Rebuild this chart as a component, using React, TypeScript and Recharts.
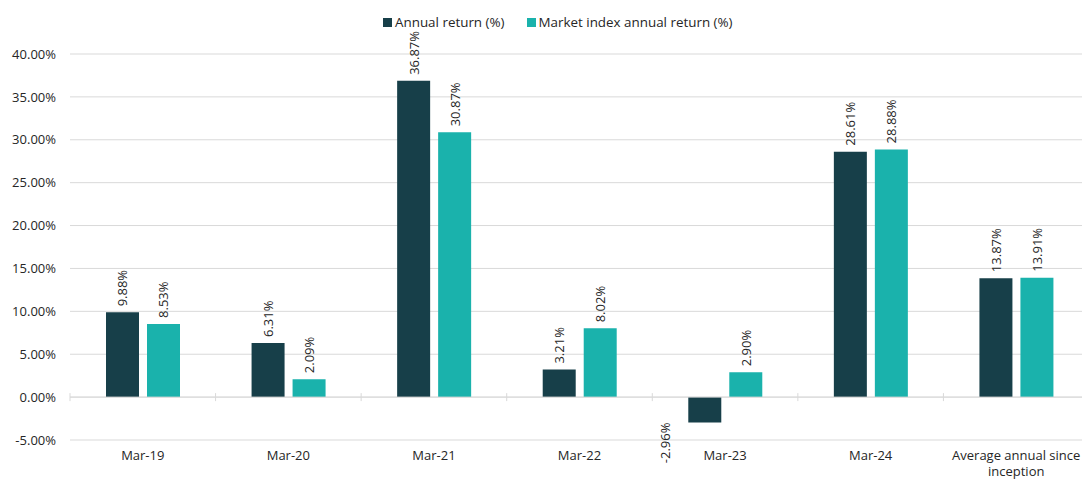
import React from 'react';
import { BarChart, Bar, XAxis, YAxis, CartesianGrid, ReferenceLine, LabelList, Text } from 'recharts';

const categories = ['Mar-19', 'Mar-20', 'Mar-21', 'Mar-22', 'Mar-23', 'Mar-24', 'Average annual since inception'];
const annualReturn = [9.88, 6.31, 36.87, 3.21, -2.96, 28.61, 13.87];
const marketReturn = [8.53, 2.09, 30.87, 8.02, 2.9, 28.88, 13.91];
const seriesNames = ['Annual return (%)', 'Market index annual return (%)'];
const yTicks = [-5, 0, 5, 10, 15, 20, 25, 30, 35, 40];

const COLORS = ['#173F49', '#1AB2AC'];
const FONT = '"Open Sans", "Noto Sans", sans-serif';
const TEXT = '#262626';
const GRID = '#d9d9d9';

const data = categories.map((c, i) => ({ name: c, a: annualReturn[i], m: marketReturn[i] }));

const fmt = (v: number) => `${v.toFixed(2)}%`;

const BarLabel = (props: any) => {
  const { x, y, width, height, value } = props;
  const top = Math.min(y, y + height);
  const bottom = Math.max(y, y + height);
  const cx = x + width / 2;
  if (value >= 0) {
    const ay = top - 6;
    return (
      <text x={cx} y={ay} transform={`rotate(-90 ${cx} ${ay})`} textAnchor="start" dominantBaseline="central"
        fontSize={13} fontFamily={FONT} fill={TEXT}>{fmt(value)}</text>
    );
  }
  const ax = cx - 40;
  const ay = bottom;
  return (
    <text x={ax} y={ay} transform={`rotate(-90 ${ax} ${ay})`} textAnchor="end" dominantBaseline="central"
      fontSize={13} fontFamily={FONT} fill={TEXT}>{fmt(value)}</text>
  );
};

const XTick = (props: any) => {
  const { x, y, payload } = props;
  return (
    <Text x={x} y={y} width={146} textAnchor="middle" verticalAnchor="start" fontSize={13}
      fontFamily={FONT} fill={TEXT} lineHeight={16}>{payload.value}</Text>
  );
};

const ZeroLine = (props: any) => {
  const { x1, y1, x2, y2 } = props;
  const n = categories.length;
  const band = (x2 - x1) / n;
  const ticks = Array.from({ length: n + 1 }, (_, i) => x1 + i * band);
  return (
    <g>
      <line x1={x1} y1={y1} x2={x2} y2={y2} stroke={GRID} strokeWidth={1} />
      {ticks.map((tx, i) => (
        <line key={i} x1={tx} x2={tx} y1={y1 - 4} y2={y1 + 4} stroke={GRID} strokeWidth={1} />
      ))}
    </g>
  );
};

export default function App() {
  return (
    <div style={{ position: 'fixed', left: 0, top: 0, width: 1082, height: 482, background: '#fff', overflow: 'hidden' }}>
      <div style={{ position: 'absolute', top: 13, left: 383, display: 'flex', alignItems: 'center', fontFamily: FONT, fontSize: 13.4, color: TEXT, whiteSpace: 'nowrap', zIndex: 1 }}>
        {seriesNames.map((n, i) => (
          <div key={n} style={{ display: 'flex', alignItems: 'center', marginRight: i === 0 ? 22 : 0 }}>
            <span style={{ display: 'inline-block', width: 9, height: 9, background: COLORS[i], marginRight: 3 }} />
            <span>{n}</span>
          </div>
        ))}
      </div>
      <BarChart width={1089} height={482} data={data} margin={{ top: 54, right: 0, bottom: 12, left: 0 }}
        barGap={8} barSize={33}>
        <CartesianGrid vertical={false} stroke={GRID} />
        <XAxis dataKey="name" axisLine={false} tickLine={false} tickSize={0} tickMargin={11} height={30}
          tick={<XTick />} interval={0} />
        <YAxis domain={[-5, 40]} ticks={yTicks} width={70} axisLine={false} tickLine={false} tickSize={0}
          tickMargin={14} tickFormatter={(v: number) => fmt(v)}
          tick={{ fontSize: 13, fontFamily: FONT, fill: TEXT }} />
        <ReferenceLine y={0} shape={<ZeroLine />} />
        <Bar dataKey="a" name={seriesNames[0]} fill={COLORS[0]} isAnimationActive={false}>
          <LabelList dataKey="a" content={<BarLabel />} />
        </Bar>
        <Bar dataKey="m" name={seriesNames[1]} fill={COLORS[1]} isAnimationActive={false}>
          <LabelList dataKey="m" content={<BarLabel />} />
        </Bar>
      </BarChart>
    </div>
  );
}
